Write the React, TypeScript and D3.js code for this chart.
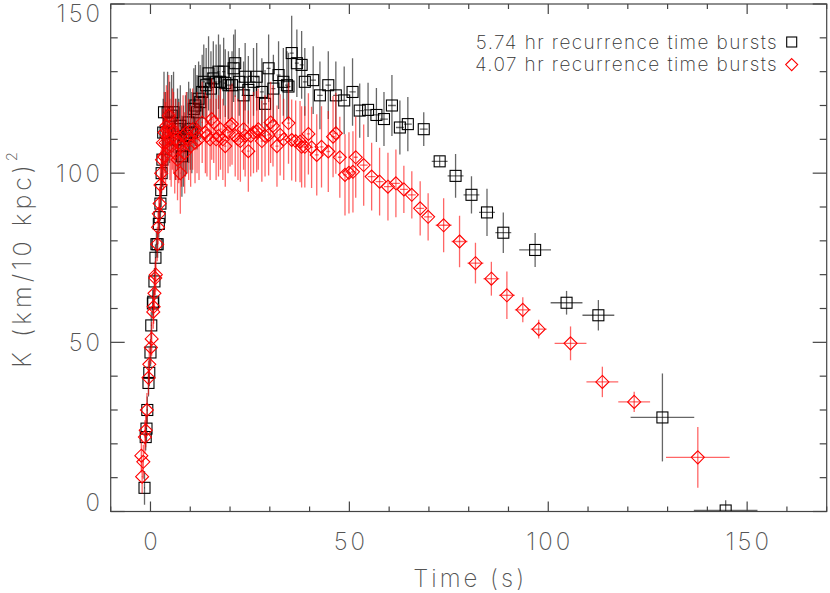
import React from 'react';
import * as d3 from 'd3';

// [time (s), K, K error, time half-width]
const bursts574: number[][] = [
  [-1.5, 7, 5, 0.1], [-1.2, 22, 4, 0.1], [-1.0, 24.5, 4, 0.1], [-0.8, 30, 4, 0.1],
  [-0.5, 38, 4, 0.1], [-0.3, 41, 4, 0.1], [0.0, 47, 4, 0.1], [0.2, 55, 4, 0.1],
  [0.6, 61.5, 4, 0.1], [0.7, 62, 4, 0.1], [1.0, 68, 4, 0.1], [1.25, 75, 4, 0.1],
  [1.5, 79, 4, 0.1], [1.8, 79, 4, 0.1], [2.1, 85, 4, 0.1], [2.3, 87, 4, 0.1],
  [2.5, 91, 5, 0.1], [2.7, 95, 5, 0.1], [2.8, 100, 6, 0.1], [3.0, 104, 8, 0.1],
  [3.2, 112, 10, 0.1], [3.4, 118, 12, 0.1], [3.8, 112, 12, 0.2], [4.3, 118, 12, 0.2],
  [4.8, 115, 12, 0.2], [5.3, 117, 12, 0.2], [5.8, 118, 12, 0.2], [6.3, 110, 12, 0.2],
  [6.8, 113, 12, 0.2], [7.1, 110, 12, 0.2], [7.5, 114, 12, 0.2], [7.9, 105, 12, 0.2],
  [8.3, 108, 12, 0.2], [8.8, 111, 12, 0.2], [9.2, 112, 12, 0.2], [9.6, 115, 12, 0.2],
  [10.0, 113, 12, 0.2], [10.4, 112, 12, 0.2], [10.9, 119, 12, 0.2], [11.3, 120, 12, 0.2],
  [11.7, 118, 11, 0.2], [12.1, 122, 11, 0.2], [12.5, 121, 11, 0.3], [13.0, 124, 11, 0.3],
  [13.4, 127, 11, 0.3], [14.0, 126, 11, 0.3], [14.6, 129.5, 11, 0.3], [15.2, 125, 11, 0.3],
  [15.8, 128, 11, 0.3], [16.5, 127, 11, 0.3], [17.1, 130, 11, 0.3], [17.5, 127, 11, 0.3],
  [18.4, 130, 10, 0.4], [18.8, 126.6, 10, 0.4], [19.6, 126, 10, 0.4], [20.5, 126, 10, 0.4],
  [20.9, 131, 10, 0.4], [21.3, 132.5, 10, 0.4], [22.3, 127, 10, 0.4], [23.4, 123, 10, 0.5],
  [23.8, 128.5, 10, 0.5], [24.6, 124.6, 10, 0.5], [25.9, 127, 10, 0.5], [26.7, 128.5, 10, 0.5],
  [28.0, 124, 10, 0.5], [28.8, 120.5, 10, 0.5], [29.7, 131, 10, 0.5], [30.9, 125, 10, 0.5],
  [32.2, 129, 10, 0.5], [33.4, 127, 10, 0.5], [34.3, 126, 10, 0.5], [34.7, 125.6, 10, 0.5],
  [35.5, 135.5, 11, 0.5], [36.8, 132.5, 10, 0.5], [38.0, 132, 10, 0.5], [38.8, 127, 10, 0.5],
  [40.9, 127.5, 10, 0.7], [42.6, 123, 10, 0.7], [44.7, 126, 10, 0.7], [46.6, 123, 10, 0.7],
  [48.7, 121.5, 10, 0.7], [50.8, 124, 10, 0.8], [52.6, 118.5, 8, 1], [54.7, 118.7, 8, 1],
  [56.8, 117.2, 8, 1], [58.7, 116, 8, 1], [60.7, 120, 9, 1], [62.7, 113.5, 8, 1],
  [64.7, 114.5, 8, 1], [68.7, 113, 5, 1], [72.7, 103.5, 1.5, 2], [76.7, 99.2, 6.5, 2],
  [80.7, 93.6, 5.5, 2], [84.6, 88.4, 7, 2], [88.7, 82.4, 6, 2], [96.7, 77.3, 5, 4],
  [104.6, 61.7, 3.5, 4], [112.6, 58, 4.5, 4], [128.7, 27.8, 13, 8], [144.6, 0.3, 3, 8],
];

const bursts407: number[][] = [
  [-2.3, 16.5, 5, 0.1], [-2.1, 10.3, 5, 0.1], [-1.8, 14.7, 5, 0.1], [-1.4, 22, 5, 0.1],
  [-1.2, 24, 5, 0.1], [-0.9, 30, 5, 0.1], [-0.5, 39.5, 5, 0.1], [-0.3, 43.5, 5, 0.1],
  [0.1, 48.5, 5, 0.1], [0.3, 51, 5, 0.1], [0.7, 59, 5, 0.1], [0.8, 60.5, 5, 0.1],
  [1.0, 64.5, 5, 0.1], [1.2, 69, 5, 0.1], [1.35, 70, 5, 0.1], [1.7, 79, 5, 0.1],
  [1.9, 84, 5, 0.1], [2.1, 88, 5, 0.1], [2.3, 91, 5, 0.1], [2.5, 96.5, 6, 0.1],
  [2.7, 100, 7, 0.1], [2.9, 104, 8, 0.1], [3.1, 109, 10, 0.1], [3.3, 105, 10, 0.1],
  [3.5, 112, 12, 0.1], [3.8, 109, 12, 0.1], [4.0, 114, 12, 0.1], [4.3, 112.5, 12, 0.1],
  [4.6, 117, 12, 0.1], [4.9, 110, 12, 0.1], [5.2, 108, 12, 0.1], [5.5, 113, 12, 0.1],
  [5.8, 112, 12, 0.1], [6.1, 106, 12, 0.1], [6.4, 110, 12, 0.1], [6.8, 104, 12, 0.1],
  [7.1, 109, 12, 0.1], [7.5, 100, 12, 0.1], [7.8, 108, 12, 0.2], [8.2, 111, 12, 0.2],
  [8.6, 106, 12, 0.2], [9.0, 112, 12, 0.2], [9.6, 110, 12, 0.2], [10.1, 108, 12, 0.2],
  [10.6, 113, 12, 0.2], [11.2, 109, 12, 0.2], [11.7, 112, 12, 0.2], [12.2, 110, 12, 0.2],
  [13.0, 115, 12, 0.2], [13.8, 112, 12, 0.2], [14.2, 111, 12, 0.2], [15.0, 110, 12, 0.2],
  [15.4, 116, 12, 0.2], [15.9, 115, 12, 0.2], [16.5, 110, 12, 0.3], [17.1, 111, 12, 0.3],
  [17.6, 113, 12, 0.3], [18.2, 110, 12, 0.3], [18.8, 108, 12, 0.3], [19.5, 112, 12, 0.3],
  [20.0, 114, 12, 0.3], [20.5, 114.5, 12, 0.3], [21.3, 111, 12, 0.3], [22.0, 110, 12, 0.3],
  [22.6, 109.5, 12, 0.3], [23.4, 113, 12, 0.3], [23.8, 111, 12, 0.3], [24.6, 106.5, 12, 0.3],
  [25.2, 111, 12, 0.3], [25.9, 112, 12, 0.3], [26.7, 112.3, 12, 0.3], [27.1, 113, 12, 0.3],
  [28.0, 109.5, 12, 0.3], [28.8, 111, 12, 0.3], [29.7, 111.3, 12, 0.4], [30.2, 115, 12, 0.4],
  [30.8, 114, 12, 0.4], [31.8, 108, 12, 0.4], [32.6, 111.3, 12, 0.4], [33.5, 110, 12, 0.4],
  [34.7, 114.8, 12, 0.4], [35.5, 109.8, 12, 0.4], [36.5, 109.5, 12, 0.4], [37.6, 109.3, 12, 0.4],
  [38.0, 107.8, 12, 0.4], [38.8, 107.8, 12, 0.4], [39.7, 111.6, 12, 0.4], [40.5, 107.6, 12, 0.4],
  [41.8, 105.4, 12, 0.5], [43.0, 107.8, 12, 0.5], [44.7, 106.4, 12, 0.5], [45.9, 110.8, 12, 0.5],
  [46.6, 111.8, 12, 0.5], [47.6, 104.7, 12, 0.5], [48.9, 99.5, 12, 0.5], [49.9, 100.1, 12, 0.5],
  [50.9, 100.4, 12, 0.5], [51.6, 104.7, 12, 0.5], [53.6, 102.4, 12, 1], [55.6, 99, 10, 1],
  [57.6, 97.5, 10, 1], [59.7, 96, 10, 1], [61.7, 97, 10, 1], [63.7, 95.2, 7, 1],
  [65.7, 93.6, 7, 1], [67.8, 89.6, 8, 1], [69.8, 87.1, 7, 1], [73.7, 84.6, 8, 2],
  [77.7, 79.8, 7.6, 2], [81.7, 73.4, 6, 2], [85.7, 68.8, 5, 2], [89.6, 63.9, 7, 2],
  [93.6, 59.6, 3.7, 2], [97.6, 53.9, 2.8, 2], [105.6, 49.7, 5, 4], [113.6, 38.3, 4.5, 4],
  [121.6, 32.4, 3, 4], [137.6, 16, 9, 8],
];

const legendLabels = ['5.74 hr recurrence time bursts', '4.07 hr recurrence time bursts'];
const xMajor = [0, 50, 100, 150];
const yMajor = [0, 50, 100, 150];

const W = 830;
const H = 593;
const left = 110.7, right = 826.7, top = 4, bottom = 511.5;
const font = 'Inter, "DejaVu Sans", sans-serif';
const axisCol = '#444';
const textCol = '#555';

const x = d3.scaleLinear().domain([-10, 170]).range([left, right]);
const y = d3.scaleLinear().domain([0, 150]).range([bottom, top]);

const Square = ({ cx, cy, s }: { cx: number; cy: number; s: number }) => (
  <rect x={cx - s} y={cy - s} width={2 * s} height={2 * s} fill="none" stroke="#000" strokeWidth={1.1} />
);
const Diamond = ({ cx, cy, s }: { cx: number; cy: number; s: number }) => (
  <path
    d={`M${cx},${cy - s}L${cx + s},${cy}L${cx},${cy + s}L${cx - s},${cy}Z`}
    fill="none"
    stroke="#f00"
    strokeWidth={1.1}
  />
);

const ErrBars = ({ data, color }: { data: number[][]; color: string }) => (
  <g stroke={color} strokeWidth={1.3} strokeOpacity={0.6}>
    {data.map((d, i) => (
      <g key={i}>
        <line x1={x(d[0])} x2={x(d[0])} y1={y(d[1] - d[2])} y2={y(d[1] + d[2])} />
        <line x1={x(d[0] - d[3])} x2={x(d[0] + d[3])} y1={y(d[1])} y2={y(d[1])} />
      </g>
    ))}
  </g>
);

export default function App() {
  const xMinor = d3.range(-10, 171, 10).filter((v) => !xMajor.includes(v));
  const yMinor = d3.range(0, 151, 10).filter((v) => !yMajor.includes(v));

  return (
    <svg width={W} height={H} style={{ position: 'absolute', left: 0, top: 0, background: '#fff' }} fontFamily={font}>
      <g clipPath="url(#plotclip)">
        <defs>
          <clipPath id="plotclip">
            <rect x={left} y={top} width={right - left} height={bottom - top} />
          </clipPath>
        </defs>
        <ErrBars data={bursts574} color="#000" />
        {bursts574.map((d, i) => (
          <Square key={i} cx={x(d[0])} cy={y(d[1])} s={5.5} />
        ))}
        <ErrBars data={bursts407} color="#f00" />
        {bursts407.map((d, i) => (
          <Diamond key={i} cx={x(d[0])} cy={y(d[1])} s={6.5} />
        ))}
      </g>

      {/* frame and ticks */}
      <g stroke={axisCol} strokeWidth={1.2} fill="none">
        <rect x={left} y={top} width={right - left} height={bottom - top} />
        {xMajor.map((v) => (
          <g key={'xM' + v}>
            <line x1={x(v)} x2={x(v)} y1={bottom} y2={bottom - 10} />
            <line x1={x(v)} x2={x(v)} y1={top} y2={top + 10} />
          </g>
        ))}
        {xMinor.map((v) => (
          <g key={'xm' + v}>
            <line x1={x(v)} x2={x(v)} y1={bottom} y2={bottom - 5} />
            <line x1={x(v)} x2={x(v)} y1={top} y2={top + 5} />
          </g>
        ))}
        {yMajor.map((v) => (
          <g key={'yM' + v}>
            <line x1={left} x2={left + 14} y1={y(v)} y2={y(v)} />
            <line x1={right} x2={right - 14} y1={y(v)} y2={y(v)} />
          </g>
        ))}
        {yMinor.map((v) => (
          <g key={'ym' + v}>
            <line x1={left} x2={left + 7} y1={y(v)} y2={y(v)} />
            <line x1={right} x2={right - 7} y1={y(v)} y2={y(v)} />
          </g>
        ))}
      </g>

      {/* tick labels */}
      <g fill={textCol} fontSize={24} fontWeight={200} letterSpacing={3}>
        {xMajor.map((v) => (
          <text key={'xl' + v} x={x(v) + 1.5} y={541} textAnchor="middle" dominantBaseline="central">
            {v}
          </text>
        ))}
        {yMajor.map((v) => (
          <text
            key={'yl' + v}
            x={103}
            y={Math.min(502, Math.max(13.5, y(v)))}
            textAnchor="end"
            dominantBaseline="central"
          >
            {v}
          </text>
        ))}
        <text x={(left + right) / 2 + 1.5} y={578} textAnchor="middle" dominantBaseline="central">
          Time (s)
        </text>
        <text
          transform={`translate(22,${(top + bottom) / 2}) rotate(-90)`}
          textAnchor="middle"
          dominantBaseline="central"
          fontSize={25}
          letterSpacing={4}
        >
          K (km/10 kpc)
          <tspan fontSize={15} dy={-11}>2</tspan>
        </text>
      </g>

      {/* legend */}
      <g fill="#333" fontSize={19} fontWeight={200} letterSpacing={1.4}>
        {legendLabels.map((l, i) => (
          <text key={l} x={778} y={42 + i * 22.6} textAnchor="end" dominantBaseline="central">
            {l}
          </text>
        ))}
      </g>
      <Square cx={791.7} cy={42} s={5} />
      <Diamond cx={791.7} cy={64.6} s={6} />
    </svg>
  );
}
